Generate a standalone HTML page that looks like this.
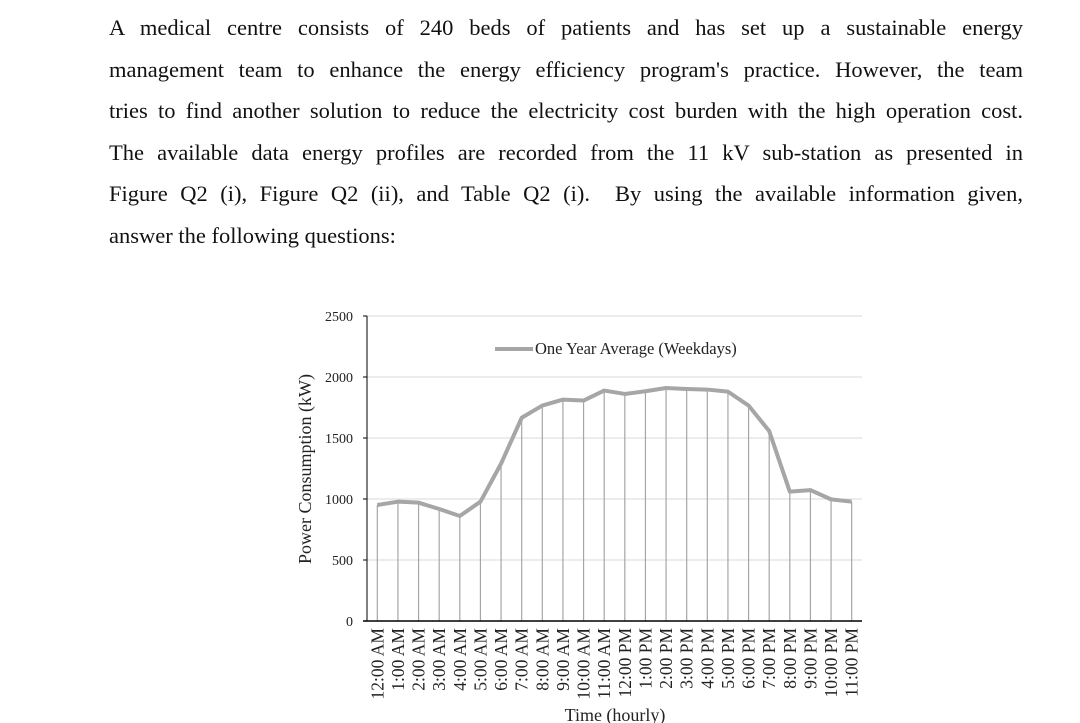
<!DOCTYPE html>
<html><head><meta charset="utf-8"><style>
body{margin:0;width:1080px;height:723px;background:#fff;overflow:hidden;font-family:"Liberation Serif",serif;}
.p{position:absolute;left:109px;width:914px;font-size:22.5px;color:#111;}
.l{height:41.6px;line-height:41.6px;text-align:justify;text-align-last:justify;white-space:nowrap;}
.last{text-align-last:left;}
</style></head><body>
<div class="p" style="top:7px">
<div class="l">A medical centre consists of 240 beds of patients and has set up a sustainable energy</div>
<div class="l">management team to enhance the energy efficiency program's practice. However, the team</div>
<div class="l">tries to find another solution to reduce the electricity cost burden with the high operation cost.</div>
<div class="l">The available data energy profiles are recorded from the 11 kV sub-station as presented in</div>
<div class="l">Figure Q2 (i), Figure Q2 (ii), and Table Q2 (i).&nbsp; By using the available information given,</div>
<div class="l last">answer the following questions:</div>
</div>
<svg id="chart" width="1080" height="723" style="position:absolute;left:0;top:0" font-family="Liberation Serif, serif"></svg>
<script>
const categories=["12:00 AM","1:00 AM","2:00 AM","3:00 AM","4:00 AM","5:00 AM","6:00 AM","7:00 AM","8:00 AM","9:00 AM","10:00 AM","11:00 AM","12:00 PM","1:00 PM","2:00 PM","3:00 PM","4:00 PM","5:00 PM","6:00 PM","7:00 PM","8:00 PM","9:00 PM","10:00 PM","11:00 PM"];
const values=[951,978,970,918,861,978,1290,1666,1766,1815,1807,1889,1861,1883,1910,1902,1897,1880,1766,1557,1060,1073,997,978];
const yTicks=[0,500,1000,1500,2000,2500];
const svg=document.getElementById('chart');
const NS='http://www.w3.org/2000/svg';
const x0=367,x1=862,yb=621,yt=316,ymax=2500;
const step=(x1-x0)/categories.length;
const xs=i=>x0+step*(i+0.5);
const ys=v=>yb-(v/ymax)*(yb-yt);
function mk(t,a,txt){const e=document.createElementNS(NS,t);for(const k in a)e.setAttribute(k,a[k]);if(txt!=null)e.textContent=txt;svg.appendChild(e);return e;}
yTicks.forEach(v=>{
  if(v>0){const g=mk('line',{x1:x0,x2:x1,y1:ys(v),y2:ys(v),stroke:'#d9d9d9','stroke-width':1});
  
  }
  const t=mk('text',{x:353,y:ys(v)+5,'text-anchor':'end','font-size':14,fill:'#222'},v);
  
  
  mk('line',{x1:x0-4,x2:x0,y1:ys(v),y2:ys(v),stroke:'#000'});
});
categories.forEach((c,i)=>{
  const d=mk('line',{x1:xs(i),x2:xs(i),y1:ys(values[i]),y2:yb,stroke:'#a6a6a6','stroke-width':1.2});
  
  
  const t=mk('text',{transform:`translate(${xs(i)+6},628) rotate(-90)`,'text-anchor':'end','font-size':17.5,fill:'#222'},c);
  
  
});
const la=mk('line',{x1:x0,x2:x0,y1:yt,y2:yb,stroke:'#000','stroke-width':1});


const ba=mk('line',{x1:x0-4,x2:x1,y1:yb,y2:yb,stroke:'#000','stroke-width':1.5});


const pl=mk('polyline',{points:values.map((v,i)=>xs(i)+','+ys(v)).join(' '),fill:'none',stroke:'#a6a6a6','stroke-width':4,'stroke-linejoin':'round'});


const ll=mk('line',{x1:495,x2:533,y1:349,y2:349,stroke:'#a6a6a6','stroke-width':4});


const lt=mk('text',{x:535,y:354,'font-size':16.5,fill:'#222'},'One Year Average (Weekdays)');


const yl=mk('text',{transform:'translate(311,469) rotate(-90)','text-anchor':'middle','font-size':18,fill:'#222'},'Power Consumption (kW)');


const xl=mk('text',{x:615,y:721,'text-anchor':'middle','font-size':18,fill:'#222'},'Time (hourly)');


</script>
</body></html>
